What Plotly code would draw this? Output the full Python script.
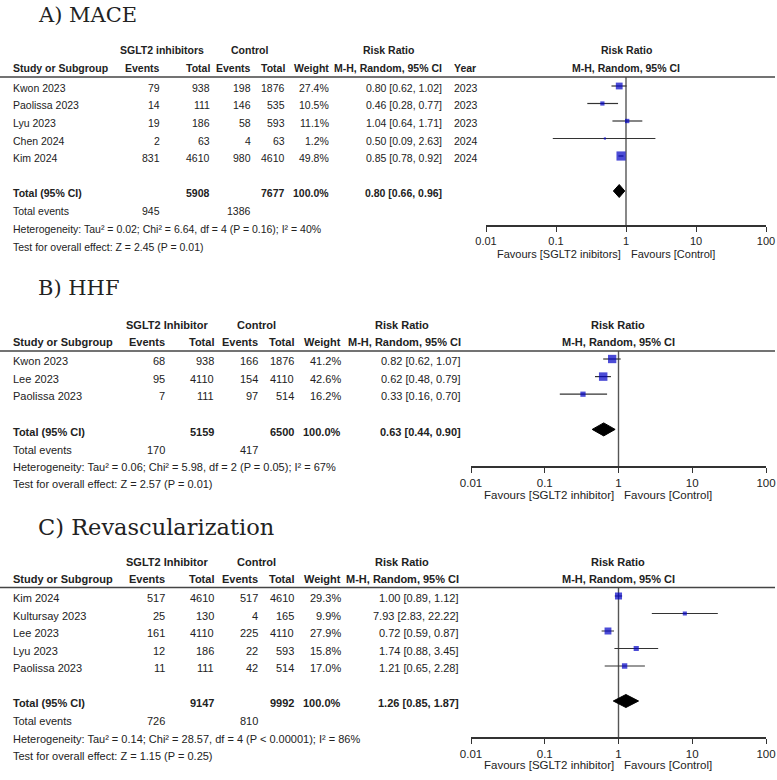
import math
import plotly.graph_objects as go

W, H = 777, 780
SANS = "Liberation Sans, Arial, sans-serif"
SERIF = "DejaVu Serif, Liberation Serif, serif"
INK = "#222222"

# A) MACE
mace_study = ["Kwon 2023", "Paolissa 2023", "Lyu 2023", "Chen 2024", "Kim 2024"]
mace_ev1 = [79, 14, 19, 2, 831]
mace_n1 = [938, 111, 186, 63, 4610]
mace_ev2 = [198, 146, 58, 4, 980]
mace_n2 = [1876, 535, 593, 63, 4610]
mace_weight = [27.4, 10.5, 11.1, 1.2, 49.8]
mace_rr = [0.80, 0.46, 1.04, 0.50, 0.85]
mace_lo = [0.62, 0.28, 0.64, 0.09, 0.78]
mace_hi = [1.02, 0.77, 1.71, 2.63, 0.92]
mace_year = [2023, 2023, 2023, 2024, 2024]
mace_total_n = [5908, 7677]
mace_total_ev = [945, 1386]
mace_pooled = [0.80, 0.66, 0.96]
mace_het = "Heterogeneity: Tau² = 0.02; Chi² = 6.64, df = 4 (P = 0.16); I² = 40%"
mace_test = "Test for overall effect: Z = 2.45 (P = 0.01)"

# B) HHF
hhf_study = ["Kwon 2023", "Lee 2023", "Paolissa 2023"]
hhf_ev1 = [68, 95, 7]
hhf_n1 = [938, 4110, 111]
hhf_ev2 = [166, 154, 97]
hhf_n2 = [1876, 4110, 514]
hhf_weight = [41.2, 42.6, 16.2]
hhf_rr = [0.82, 0.62, 0.33]
hhf_lo = [0.62, 0.48, 0.16]
hhf_hi = [1.07, 0.79, 0.70]
hhf_total_n = [5159, 6500]
hhf_total_ev = [170, 417]
hhf_pooled = [0.63, 0.44, 0.90]
hhf_het = "Heterogeneity: Tau² = 0.06; Chi² = 5.98, df = 2 (P = 0.05); I² = 67%"
hhf_test = "Test for overall effect: Z = 2.57 (P = 0.01)"

# C) Revascularization
rev_study = ["Kim 2024", "Kultursay 2023", "Lee 2023", "Lyu 2023", "Paolissa 2023"]
rev_ev1 = [517, 25, 161, 12, 11]
rev_n1 = [4610, 130, 4110, 186, 111]
rev_ev2 = [517, 4, 225, 22, 42]
rev_n2 = [4610, 165, 4110, 593, 514]
rev_weight = [29.3, 9.9, 27.9, 15.8, 17.0]
rev_rr = [1.00, 7.93, 0.72, 1.74, 1.21]
rev_lo = [0.89, 2.83, 0.59, 0.88, 0.65]
rev_hi = [1.12, 22.22, 0.87, 3.45, 2.28]
rev_total_n = [9147, 9992]
rev_total_ev = [726, 810]
rev_pooled = [1.26, 0.85, 1.87]
rev_het = "Heterogeneity: Tau² = 0.14; Chi² = 28.57, df = 4 (P < 0.00001); I² = 86%"
rev_test = "Test for overall effect: Z = 1.15 (P = 0.25)"

tick_vals = [0.01, 0.1, 1, 10, 100]
tick_text = ["0.01", "0.1", "1", "10", "100"]

# pixel layout of each panel (positions only)
layout_a = dict(title_y=15, title_fs=21, fs=10.5, h1=50, h2=68, rule=77, row0=86, step=17.5,
                total_y=191, tev_y=211, het_y=229, test_y=247, axis=225, fx0=486, fx1=766,
                cols=[12, 161, 211, 252, 286, 330, 443], year_x=453,
                heads=[162, 249, 388], fc=626, favour_y=254)
layout_b = dict(title_y=288, title_fs=21, fs=11, h1=325, h2=342, rule=351, row0=359, step=17.6,
                total_y=430, tev_y=450, het_y=467, test_y=484, axis=466, fx0=471, fx1=766,
                cols=[12, 166, 215, 259, 295, 342, 462], year_x=None,
                heads=[167, 256, 402], fc=618, favour_y=495)
layout_c = dict(title_y=527, title_fs=22.5, fs=11, h1=562, h2=579, rule=587.5, row0=596,
                step=17.5, total_y=701, tev_y=721, het_y=739, test_y=756, axis=737,
                fx0=471, fx1=766, cols=[12, 166, 215, 259, 295, 342, 460], year_x=None,
                heads=[167, 256, 402], fc=618, favour_y=765)

fig = go.Figure()
annotations = []
shapes = []


def px(x):
    return x / W


def py(y):
    return 1 - y / H


def txt(x, y, s, anchor="left", bold=False, size=11, family=SANS):
    annotations.append(dict(
        x=px(x), y=py(y), xref="paper", yref="paper", text=f"<b>{s}</b>" if bold else s,
        xanchor=anchor, yanchor="middle", showarrow=False, borderpad=0,
        font=dict(family=family, size=size, color=INK)))


def panel(k, lay, title, group, study, ev1, n1, ev2, n2, weight, rr, lo, hi, year,
          total_n, total_ev, pooled, het, test, favour_left):
    c = lay["cols"]
    fs = lay["fs"]
    txt(37, lay["title_y"], title, size=lay["title_fs"], family=SERIF)
    # header
    txt(lay["heads"][0], lay["h1"], group, "center", True, fs)
    txt(lay["heads"][1], lay["h1"], "Control", "center", True, fs)
    txt(lay["heads"][2], lay["h1"], "Risk Ratio", "center", True, fs)
    txt(lay["fc"], lay["h1"], "Risk Ratio", "center", True, fs)
    txt(c[0], lay["h2"], "Study or Subgroup", "left", True, fs)
    for x, s in zip(c[1:], ["Events", "Total", "Events", "Total", "Weight", "M-H, Random, 95% CI"]):
        txt(x, lay["h2"], s, "right", True, fs)
    if lay["year_x"]:
        txt(lay["year_x"], lay["h2"], "Year", "left", True, fs)
    txt(lay["fc"], lay["h2"], "M-H, Random, 95% CI", "center", True, fs)
    shapes.append(dict(type="line", xref="paper", yref="paper", x0=0, x1=px(775),
                       y0=py(lay["rule"]), y1=py(lay["rule"]),
                       line=dict(color="#444", width=1.6)))
    # study rows
    for i in range(len(study)):
        y = lay["row0"] + lay["step"] * i + 2
        txt(c[0], y, study[i], size=fs)
        txt(c[1], y, str(ev1[i]), "right", size=fs)
        txt(c[2], y, str(n1[i]), "right", size=fs)
        txt(c[3], y, str(ev2[i]), "right", size=fs)
        txt(c[4], y, str(n2[i]), "right", size=fs)
        txt(c[5], y, f"{weight[i]:.1f}%", "right", size=fs)
        txt(c[6], y, f"{rr[i]:.2f} [{lo[i]:.2f}, {hi[i]:.2f}]", "right", size=fs)
        if year:
            txt(lay["year_x"], y, str(year[i]), size=fs)
    ty = lay["total_y"] + 2
    txt(c[0], ty, "Total (95% CI)", bold=True, size=fs)
    txt(c[2], ty, str(total_n[0]), "right", True, fs)
    txt(c[4], ty, str(total_n[1]), "right", True, fs)
    txt(c[5], ty, "100.0%", "right", True, fs)
    txt(c[6], ty, f"{pooled[0]:.2f} [{pooled[1]:.2f}, {pooled[2]:.2f}]", "right", True, fs)
    txt(c[0], lay["tev_y"], "Total events", size=fs)
    txt(c[1], lay["tev_y"], str(total_ev[0]), "right", size=fs)
    txt(c[3], lay["tev_y"], str(total_ev[1]), "right", size=fs)
    txt(c[0], lay["het_y"], het, size=fs)
    txt(c[0], lay["test_y"], test, size=fs)

    # forest plot
    xa = "x" if k == 1 else f"x{k}"
    ya = "y" if k == 1 else f"y{k}"
    rows = list(range(len(study)))
    total_row = len(study) + 1
    r_top = (lay["rule"] - lay["row0"]) / lay["step"]
    r_bot = (lay["axis"] - lay["row0"]) / lay["step"]

    fig.add_trace(go.Scatter(x=[1, 1], y=[r_top, r_bot], mode="lines", xaxis=xa, yaxis=ya,
                             line=dict(color="#555", width=1.4), hoverinfo="skip",
                             showlegend=False, cliponaxis=False))
    cx, cy = [], []
    for r, a, b in zip(rows, lo, hi):
        cx += [a, b, None]
        cy += [r, r, None]
    fig.add_trace(go.Scatter(x=cx, y=cy, mode="lines", xaxis=xa, yaxis=ya,
                             line=dict(color="#333", width=1.2), showlegend=False))
    fig.add_trace(go.Scatter(x=rr, y=rows, mode="markers", xaxis=xa, yaxis=ya,
                             marker=dict(symbol="square", color="#0000c4",
                                         size=[max(2.2, 1.3 * math.sqrt(w)) for w in weight],
                                         line=dict(width=0)),
                             showlegend=False))
    dh = 6.5 / lay["step"]
    fig.add_trace(go.Scatter(x=[pooled[1], pooled[0], pooled[2], pooled[0], pooled[1]],
                             y=[total_row, total_row - dh, total_row, total_row + dh, total_row],
                             mode="lines", fill="toself", fillcolor="black",
                             line=dict(color="black", width=1), xaxis=xa, yaxis=ya,
                             showlegend=False))
    ax = dict(type="log", range=[-2, 2], domain=[px(lay["fx0"]), px(lay["fx1"])],
              anchor=ya, tickvals=tick_vals, ticktext=tick_text, ticks="outside",
              ticklen=5, tickwidth=1.2, tickcolor="#333", showline=True, linecolor="#333",
              linewidth=1.5, showgrid=False, zeroline=False, automargin=False,
              tickfont=dict(family=SANS, size=fs + 0.5, color=INK))
    ay = dict(range=[r_bot, r_top], domain=[py(lay["axis"]), py(lay["rule"])],
              anchor=xa, visible=False, showgrid=False, zeroline=False, automargin=False)
    fig.update_layout({("xaxis" if k == 1 else f"xaxis{k}"): ax,
                       ("yaxis" if k == 1 else f"yaxis{k}"): ay})
    annotations.append(dict(x=0, y=py(lay["favour_y"]), xref=xa, yref="paper",
                            text=favour_left, xanchor="right", yanchor="middle",
                            xshift=-3, showarrow=False,
                            font=dict(family=SANS, size=fs + 0.5, color=INK)))
    annotations.append(dict(x=0, y=py(lay["favour_y"]), xref=xa, yref="paper",
                            text="Favours [Control]", xanchor="left", yanchor="middle",
                            xshift=3, showarrow=False,
                            font=dict(family=SANS, size=fs + 0.5, color=INK)))


panel(1, layout_a, "A) MACE", "SGLT2 inhibitors", mace_study, mace_ev1, mace_n1, mace_ev2,
      mace_n2, mace_weight, mace_rr, mace_lo, mace_hi, mace_year, mace_total_n,
      mace_total_ev, mace_pooled, mace_het, mace_test, "Favours [SGLT2 inibitors]")
panel(2, layout_b, "B) HHF", "SGLT2 Inhibitor", hhf_study, hhf_ev1, hhf_n1, hhf_ev2,
      hhf_n2, hhf_weight, hhf_rr, hhf_lo, hhf_hi, None, hhf_total_n,
      hhf_total_ev, hhf_pooled, hhf_het, hhf_test, "Favours [SGLT2 inhibitor]")
panel(3, layout_c, "C) Revascularization", "SGLT2 Inhibitor", rev_study, rev_ev1, rev_n1,
      rev_ev2, rev_n2, rev_weight, rev_rr, rev_lo, rev_hi, None, rev_total_n,
      rev_total_ev, rev_pooled, rev_het, rev_test, "Favours [SGLT2 inhibitor]")

fig.update_layout(width=W, height=H, margin=dict(l=0, r=0, t=0, b=0, autoexpand=False),
                  paper_bgcolor="white", plot_bgcolor="white",
                  annotations=annotations, shapes=shapes, showlegend=False)
# drop the page's default body margin so the figure sits at the window corner
fig.write_html("out.html", config={"displayModeBar": False},
               post_script="document.body.style.margin='0px';")
